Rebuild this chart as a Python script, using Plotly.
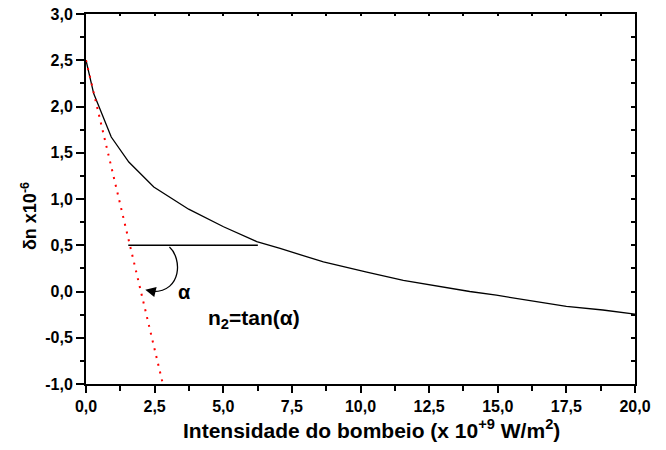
import plotly.graph_objects as go

# Data
intensity = [0, 0.28, 0.92, 1.56, 2.47, 3.74, 5.01, 6.22, 7.07, 8.65, 10.23, 11.56,
             13.98, 14.95, 16.41, 17.5, 18.83, 20]
delta_n = [2.50, 2.14, 1.67, 1.40, 1.13, 0.89, 0.70, 0.54, 0.465, 0.32, 0.21, 0.12,
           0.0, -0.04, -0.11, -0.16, -0.20, -0.245]

tangent_x = [0, 2.8]
tangent_y = [2.5, -1.0]

hline_x = [1.54, 6.26]
hline_y = [0.5, 0.5]

x_ticks = [0, 2.5, 5, 7.5, 10, 12.5, 15, 17.5, 20]
x_labels = ["0,0", "2,5", "5,0", "7,5", "10,0", "12,5", "15,0", "17,5", "20,0"]
y_ticks = [-1.0, -0.5, 0.0, 0.5, 1.0, 1.5, 2.0, 2.5, 3.0]
y_labels = ["-1,0", "-0,5", "0,0", "0,5", "1,0", "1,5", "2,0", "2,5", "3,0"]

FONT = "Arial, Liberation Sans, sans-serif"

fig = go.Figure()
fig.add_trace(go.Scatter(x=intensity, y=delta_n, mode="lines",
                         line=dict(color="black", width=1.3), showlegend=False))
fig.add_trace(go.Scatter(x=tangent_x, y=tangent_y, mode="lines",
                         line=dict(color="red", width=2, dash="2px,6px"), showlegend=False))
fig.add_trace(go.Scatter(x=hline_x, y=hline_y, mode="lines",
                         line=dict(color="black", width=1.3), showlegend=False))

# curved arrow for the angle
fig.add_shape(type="path", xref="x", yref="y",
              path="M 3.04,0.48 C 3.5,0.36 3.5,0.0 2.45,0.0",
              line=dict(color="black", width=1.3))
fig.add_annotation(x=2.16, y=0.02, ax=2.45, ay=0.0, axref="x", ayref="y",
                   xref="x", yref="y", text="", showarrow=True,
                   arrowhead=2, arrowsize=1.6, arrowwidth=1.3, arrowcolor="black")

fig.add_annotation(x=3.6, y=0.0, xref="x", yref="y", text="<b>α</b>", showarrow=False,
                   xanchor="center", yanchor="middle",
                   font=dict(family=FONT, size=20, color="black"))
fig.add_annotation(x=6.13, y=-0.3, xref="x", yref="y", text="<b>n<sub>2</sub>=tan(α)</b>",
                   showarrow=False, xanchor="center", yanchor="middle",
                   font=dict(family=FONT, size=21, color="black"))

# axis titles
fig.add_annotation(x=-0.104, y=0.4536, xref="paper", yref="paper", textangle=-90,
                   xanchor="center", yanchor="middle",
                   text="<b>δn x10<sup>-6</sup></b>", showarrow=False,
                   font=dict(family=FONT, size=18, color="black"))
fig.add_annotation(x=0.52, y=-0.121, xref="paper", yref="paper",
                   xanchor="center", yanchor="middle",
                   text="<b>Intensidade do bombeio (x 10<sup>+9</sup> W/m<sup>2</sup>)</b>",
                   showarrow=False, font=dict(family=FONT, size=21, color="black"))

axis_common = dict(showgrid=False, zeroline=False, showline=True, linecolor="black",
                   linewidth=2, tickcolor="black", tickwidth=1.5)

fig.update_layout(
    width=666, height=450,
    margin=dict(l=77.5, r=39, t=6, b=74.3, autoexpand=False),
    paper_bgcolor="white", plot_bgcolor="white",
    font=dict(family=FONT, color="black"),
    xaxis=dict(range=[0, 20], tickvals=x_ticks, ticktext=["<b>%s</b>" % s for s in x_labels],
               ticks="outside", ticklen=7, ticklabeloverflow="allow",
               tickfont=dict(family=FONT, size=16, color="black"),
               minor=dict(ticks="outside", ticklen=5, dtick=1.25, tick0=0, tickcolor="black",
                          tickwidth=1.5),
               **axis_common),
    yaxis=dict(range=[-1.0, 3.0], tickvals=y_ticks, ticktext=["<b>%s</b>" % s for s in y_labels],
               ticks="outside", ticklen=8, ticklabeloverflow="allow",
               tickfont=dict(family=FONT, size=16, color="black"),
               minor=dict(ticks="outside", ticklen=4, dtick=0.25, tick0=0, tickcolor="black",
                          tickwidth=1.5),
               **axis_common),
    xaxis2=dict(range=[0, 20], overlaying="x", side="top", tickvals=x_ticks, ticks="inside",
                ticklen=2, showticklabels=False, matches="x",
                minor=dict(ticks="inside", ticklen=2, dtick=1.25, tick0=0, tickcolor="black"),
                **axis_common),
    yaxis2=dict(range=[-1.0, 3.0], overlaying="y", side="right", tickvals=y_ticks,
                ticks="inside", ticklen=4, showticklabels=False, matches="y",
                minor=dict(ticks="inside", ticklen=4, dtick=0.25, tick0=0, tickcolor="black"),
                **axis_common),
)
# dummy trace to activate secondary axes
fig.add_trace(go.Scatter(x=[None], y=[None], xaxis="x2", yaxis="y2", showlegend=False,
                         hoverinfo="skip"))

fig.write_html("out.html")
